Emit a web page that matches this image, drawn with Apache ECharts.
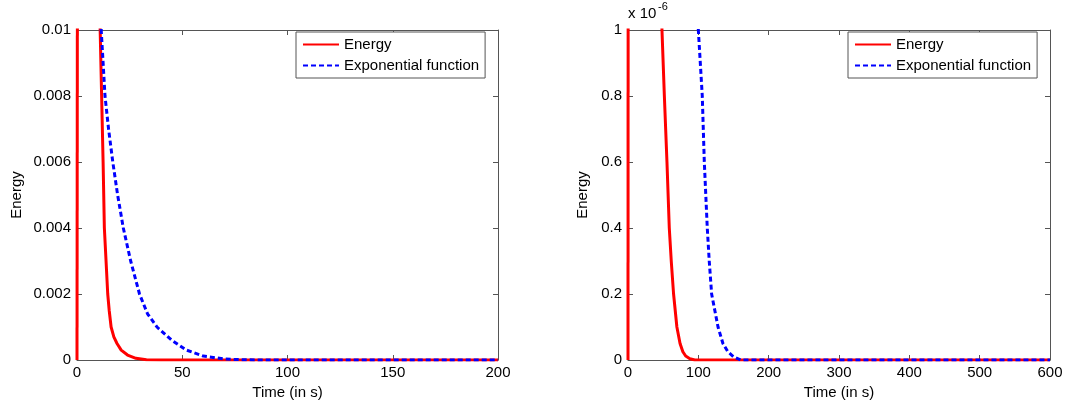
<!DOCTYPE html>
<html><head><meta charset="utf-8">
<script src="https://cdn.jsdelivr.net/npm/echarts@6/dist/echarts.min.js"></script>
<style>html,body{margin:0;padding:0;background:#fff}#c{width:1073px;height:405px}</style>
</head><body><div id="c"></div>
<script>
// Left panel (x: seconds, y: energy)
const leftSpike = [[0,0],[0.5,0.03]];
const leftEnergy = [[10.9,0.012],[11,0.01],[11.7,0.008],[12.4,0.006],[13,0.004],[13.8,0.003],[14.6,0.002],[15.3,0.0015],[16.2,0.001],[17.5,0.0007],[19,0.0005],[21,0.0003],[24,0.00015],[28,0.00005],[33,0.00001],[40,0],[200,0]];
const leftExp = [[11.3,0.011],[11.5,0.01],[13.3,0.008],[15,0.007],[17,0.006],[19.3,0.005],[22,0.004],[25.5,0.003],[29.7,0.002],[33.5,0.0014],[38,0.001],[45,0.0006],[52,0.0003],[60,0.00012],[70,0.00003],[80,0.000005],[90,0],[200,0]];
// Right panel (y in units of 1e-6)
const rightSpike = [[0,0],[0.5,3]];
const rightEnergy = [[48,1.1],[48.3,1],[51.7,0.8],[55.4,0.6],[58.7,0.4],[61.5,0.3],[64.8,0.2],[69.5,0.1],[74,0.05],[78,0.025],[82,0.012],[88,0.004],[95,0],[600,0]];
const rightExp = [[99.5,1.1],[100,1],[105.6,0.8],[108.5,0.6],[112.7,0.4],[115.5,0.3],[118.9,0.2],[128,0.1],[135,0.05],[142,0.025],[150,0.01],[160,0],[600,0]];

const font = 'Liberation Sans, Arial, sans-serif';
const grids = [{left:77,top:30,width:421,height:330},{left:628,top:30,width:422,height:330}];
function xAx(i,max,interval,show){return {type:'value',gridIndex:i,min:0,max,interval,position:show?'bottom':'top',
  name:show?'Time (in s)':'',nameLocation:'middle',nameGap:22,nameTextStyle:{color:'#000',fontSize:15,fontFamily:font},
  axisLine:{show:true,onZero:false,lineStyle:{color:'#555'}},axisTick:{inside:true,length:5,lineStyle:{color:'#555'}},
  axisLabel:{show:show,color:'#000',fontSize:15,fontFamily:font,margin:5},splitLine:{show:false}};}
function yAx(i,max,interval,show,fmt){return {type:'value',gridIndex:i,min:0,max,interval,position:show?'left':'right',
  name:show?'Energy':'',nameLocation:'middle',nameGap:i===0?53:38,nameTextStyle:{color:'#000',fontSize:15,fontFamily:font},
  axisLine:{show:true,onZero:false,lineStyle:{color:'#555'}},axisTick:{inside:true,length:5,lineStyle:{color:'#555'}},
  axisLabel:{show:show,color:'#000',fontSize:15,fontFamily:font,margin:6,formatter:fmt},splitLine:{show:false}};}
const chart = echarts.init(document.getElementById('c'));
const red={color:'#ff0000',width:3,type:'solid',join:'round'}, blue={color:'#0000ff',width:3,type:[5,3],join:'round'};
function ser(name,data,ls,xi,yi){return {name,type:'line',data,xAxisIndex:xi,yAxisIndex:yi,showSymbol:false,symbol:'none',lineStyle:ls,itemStyle:{color:ls.color},clip:true,animation:false};}
function legend(left){return {show:true,left,top:32,orient:'vertical',itemWidth:36,itemHeight:10,itemGap:6,
  data:['Energy','Exponential function'],borderColor:'#555',borderWidth:1,backgroundColor:'#fff',padding:[5,6,5,6],
  itemStyle:{opacity:0},textStyle:{color:'#000',fontSize:15,fontFamily:font}};}
chart.setOption({
  animation:false,
  grid:grids,
  xAxis:[xAx(0,200,50,true),xAx(0,200,50,false),xAx(1,600,100,true),xAx(1,600,100,false)],
  yAxis:[yAx(0,0.01,0.002,true,v=>v===0?'0':String(+v.toFixed(3))),yAx(0,0.01,0.002,false),
         yAx(1,1,0.2,true,v=>String(+v.toFixed(1))),yAx(1,1,0.2,false)],
  legend:[legend(296),legend(848)],
  graphic:[{type:'text',left:628,top:6,style:{text:'x 10',fontSize:15,fontFamily:font,fill:'#000'}},
           {type:'text',left:658,top:1,style:{text:'-6',fontSize:11,fontFamily:font,fill:'#000'}}],
  series:[ser('Energy',leftSpike,red,0,0),ser('Energy',leftEnergy,red,0,0),ser('Exponential function',leftExp,blue,0,0),
          ser('Energy',rightSpike,red,2,2),ser('Energy',rightEnergy,red,2,2),ser('Exponential function',rightExp,blue,2,2)]
});
</script></body></html>
